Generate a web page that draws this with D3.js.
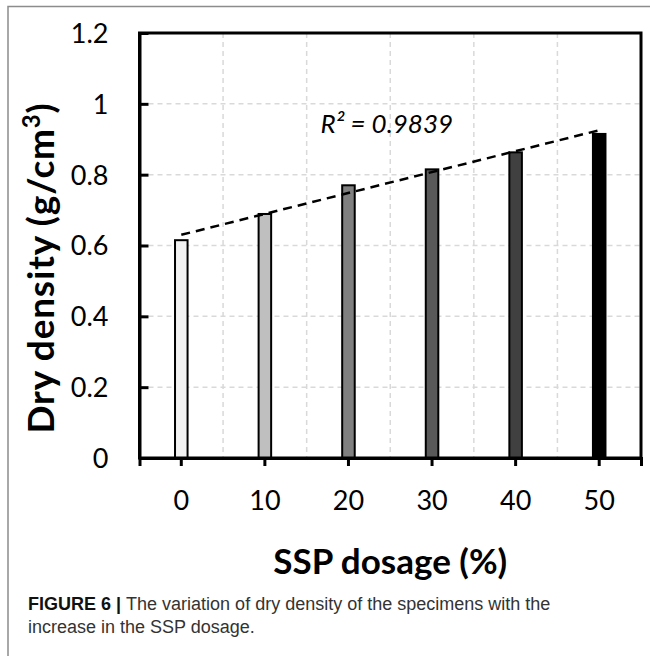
<!DOCTYPE html>
<html>
<head>
<meta charset="utf-8">
<script src="https://cdn.jsdelivr.net/npm/d3@7"></script>
<style>
  body { margin: 0; background: #fff; }
  svg { display: block; }
</style>
</head>
<body>
<div id="chart"></div>
<script>
// données
const dosages = ['0', '10', '20', '30', '40', '50'];
const density = [0.615, 0.689, 0.770, 0.815, 0.863, 0.915];
const barColors = ['#f2f2f2', '#bfbfbf', '#808080', '#595959', '#404040', '#000000'];
const yTicks = [0, 0.2, 0.4, 0.6, 0.8, 1, 1.2];
const r2Label = 'R² = 0.9839';

const W = 650, H = 656;
const margin = { top: 33, right: 9, bottom: 198, left: 139.5 };
const width = W - margin.left - margin.right;
const height = H - margin.top - margin.bottom;

const svg = d3.select('#chart').append('svg')
    .attr('width', W)
    .attr('height', H);

// cadre extérieur
svg.append('path')
    .attr('d', `M ${W} 6.5 H 8 V ${H}`)
    .attr('fill', 'none')
    .attr('stroke', '#8c8c8c')
    .attr('stroke-width', 1.5);

const g = svg.append('g')
    .attr('transform', `translate(${margin.left},${margin.top})`);

const x = d3.scaleBand()
    .domain(dosages)
    .range([0, width])
    .padding(0);

const y = d3.scaleLinear()
    .domain([0, 1.2])
    .range([height, 0]);

// grille
g.append('g')
    .selectAll('line')
    .data(yTicks.slice(1, -1))
    .join('line')
    .attr('x1', 0)
    .attr('x2', width)
    .attr('y1', d => y(d))
    .attr('y2', d => y(d))
    .attr('stroke', '#d9d9d9')
    .attr('stroke-width', 1.5)
    .attr('stroke-dasharray', '5,4');

g.append('g')
    .selectAll('line')
    .data(dosages.slice(1))
    .join('line')
    .attr('x1', d => x(d))
    .attr('x2', d => x(d))
    .attr('y1', 0)
    .attr('y2', height)
    .attr('stroke', '#d9d9d9')
    .attr('stroke-width', 1.5)
    .attr('stroke-dasharray', '5,4');

// barres
const barW = x.bandwidth() * 0.15;
g.append('g')
    .selectAll('rect')
    .data(dosages)
    .join('rect')
    .attr('x', d => x(d) + x.bandwidth() / 2 - barW / 2)
    .attr('y', (d, i) => y(density[i]))
    .attr('width', barW)
    .attr('height', (d, i) => height - y(density[i]))
    .attr('fill', (d, i) => barColors[i])
    .attr('stroke', '#000')
    .attr('stroke-width', 2);

// droite de tendance (régression linéaire)
const xs = dosages.map(Number);
const mx = d3.mean(xs), my = d3.mean(density);
const slope = d3.sum(xs, (v, i) => (v - mx) * (density[i] - my)) / d3.sum(xs, v => (v - mx) ** 2);
const intercept = my - slope * mx;
const cx = d => x(d) + x.bandwidth() / 2;

g.append('line')
    .attr('x1', cx(dosages[0]))
    .attr('y1', y(intercept + slope * xs[0]))
    .attr('x2', cx(dosages[dosages.length - 1]))
    .attr('y2', y(intercept + slope * xs[xs.length - 1]))
    .attr('stroke', '#000')
    .attr('stroke-width', 2.5)
    .attr('stroke-dasharray', '9,6');

g.append('text')
    .attr('x', 181)
    .attr('y', 100)
    .attr('font-family', 'Lato, sans-serif')
    .attr('font-style', 'italic')
    .attr('font-size', 26)
    .attr('fill', '#000')
    .text(r2Label);

// axes
const xAxis = g.append('g')
    .attr('transform', `translate(0,${height})`)
    .call(d3.axisBottom(x).tickSize(8).tickSizeOuter(8).tickPadding(25));

const yAxis = g.append('g')
    .call(d3.axisLeft(y).tickValues(yTicks).tickFormat(d3.format('~g')).tickSize(-9).tickSizeOuter(0).tickPadding(31));

[xAxis, yAxis].forEach(a => {
    a.selectAll('line').attr('stroke', '#000').attr('stroke-width', 3);
    a.select('.domain').attr('stroke', '#000').attr('stroke-width', 3);
    a.selectAll('text')
        .attr('font-family', 'Lato, sans-serif')
        .attr('font-size', 27)
        .attr('fill', '#000');
});
yAxis.selectAll('text').attr('dy', '0.35em');

// cadre du graphique
g.append('rect')
    .attr('width', width)
    .attr('height', height)
    .attr('fill', 'none')
    .attr('stroke', '#000')
    .attr('stroke-width', 3);

// titres des axes
svg.append('text')
    .attr('x', margin.left + width / 2)
    .attr('y', 574)
    .attr('text-anchor', 'middle')
    .attr('font-family', 'Lato, sans-serif')
    .attr('font-weight', 'bold')
    .attr('font-size', 35)
    .text('SSP dosage (%)');

const yTitle = svg.append('text')
    .attr('transform', 'translate(54,268) rotate(-90)')
    .attr('text-anchor', 'middle')
    .attr('font-family', 'Lato, sans-serif')
    .attr('font-weight', 'bold')
    .attr('font-size', 37)
    .attr('letter-spacing', 0.8);
yTitle.append('tspan').text('Dry density (g/cm');
yTitle.append('tspan').attr('font-size', 24).attr('dy', -14).text('3');
yTitle.append('tspan').attr('dy', 14).text(')');

// légende de la figure
const caption = svg.append('text')
    .attr('font-family', '"Liberation Sans Narrow", "Arial Narrow", "Liberation Sans", sans-serif')
    .attr('font-size', 18)
    .attr('fill', '#333');
const line1 = caption.append('tspan').attr('x', 28).attr('y', 610);
line1.append('tspan').attr('font-weight', 'bold').attr('fill', '#111').text('FIGURE 6 | ');
line1.append('tspan').text('The variation of dry density of the specimens with the');
caption.append('tspan').attr('x', 28).attr('y', 633).text('increase in the SSP dosage.');
</script>
</body>
</html>
